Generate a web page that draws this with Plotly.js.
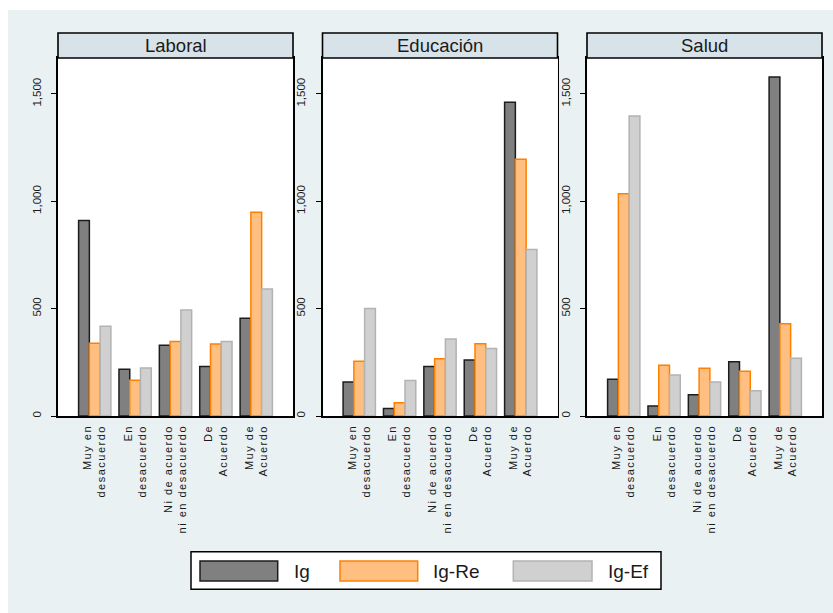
<!DOCTYPE html>
<html>
<head>
<meta charset="utf-8">
<script src="https://cdn.plot.ly/plotly-3.0.1.min.js"></script>
<style>
  html, body { margin: 0; padding: 0; background: #ffffff; width: 833px; height: 613px; overflow: hidden; }
  #chart { position: absolute; left: 8px; top: 10px; width: 825px; height: 603px; }
  .xtick text, .x2tick text, .x3tick text { letter-spacing: 1.5px; }
</style>
</head>
<body>
<div id="chart"></div>
<script>
// ---------- data ----------
const categories = ["Muy en<br>desacuerdo", "En<br>desacuerdo", "Ni de acuerdo<br>ni en desacuerdo", "De<br>Acuerdo", "Muy de<br>Acuerdo"];
const panelTitles = ["Laboral", "Educación", "Salud"];
const seriesNames = ["Ig", "Ig-Re", "Ig-Ef"];

const laboralIg = [910, 218, 329, 231, 455];
const laboralRe = [339, 167, 347, 335, 949];
const laboralEf = [418, 224, 494, 347, 591];

const educacionIg = [158, 35, 230, 261, 1461];
const educacionRe = [255, 62, 267, 337, 1196];
const educacionEf = [500, 165, 359, 314, 775];

const saludIg = [171, 47, 99, 253, 1579];
const saludRe = [1035, 236, 222, 208, 429];
const saludEf = [1397, 191, 158, 118, 269];

// ---------- styles ----------
const fillColors = ["#808080", "#ffbf80", "#d0d0d0"];
const lineColors = ["#1c1c1c", "#ff8000", "#b2b2b2"];
const bgColor = "#eaf1f3";
const stripColor = "#d8e3e9";
const FONT = "Liberation Sans, Arial, sans-serif";

const panelData = [
  [laboralIg, laboralRe, laboralEf],
  [educacionIg, educacionRe, educacionEf],
  [saludIg, saludRe, saludEf]
];

// ---------- geometry (pixels within the 825x603 div) ----------
const W = 825, H = 603;
const panelX = [[50, 285], [314.5, 549.5], [579, 814]];
const plotTop = 48, plotBottom = 406, stripTop = 23;
const px = v => v / W;
const py = v => (H - v) / H;

const traces = [];
panelData.forEach((series, p) => {
  const ax = p === 0 ? "" : String(p + 1);
  series.forEach((vals, s) => {
    traces.push({
      type: "bar",
      name: seriesNames[s],
      x: categories,
      y: vals,
      xaxis: "x" + ax,
      yaxis: "y" + ax,
      marker: { color: fillColors[s], line: { color: lineColors[s], width: 1.5 } },
      showlegend: false,
      hoverinfo: "x+y+name"
    });
  });
});

const layout = {
  width: W, height: H,
  margin: { l: 0, r: 0, t: 0, b: 0 },
  paper_bgcolor: bgColor,
  plot_bgcolor: "#ffffff",
  barmode: "group",
  bargap: 0.2,
  bargroupgap: 0,
  showlegend: false,
  font: { family: FONT, color: "#1a1a1a" },
  shapes: [],
  annotations: []
};

panelX.forEach((xs, p) => {
  const ax = p === 0 ? "" : String(p + 1);
  layout["xaxis" + ax] = {
    domain: [px(xs[0]), px(xs[1])],
    anchor: "y" + ax,
    type: "category",
    range: [-0.91, 4.91],
    showline: true, mirror: true, linecolor: "#000", linewidth: 1.6,
    ticks: "", tickangle: -90,
    tickfont: { family: FONT, size: 11, color: "#1a1a1a" },
    ticklabelstandoff: 3,
    showgrid: false, zeroline: false, fixedrange: true
  };
  layout["yaxis" + ax] = {
    domain: [py(plotBottom), py(plotTop)],
    anchor: "x" + ax,
    range: [0, 1667],
    tickvals: [0, 500, 1000, 1500],
    tickformat: ",",
    tickangle: -90,
    ticks: "outside", ticklen: 5, tickwidth: 1, tickcolor: "#000",
    tickfont: { family: FONT, size: 11.5, color: "#1a1a1a" },
    ticklabelstandoff: 6,
    showline: true, mirror: true, linecolor: "#000", linewidth: 1.6,
    showgrid: false, zeroline: false, fixedrange: true
  };
  // strip header
  layout.shapes.push({
    type: "rect", xref: "paper", yref: "paper",
    x0: px(xs[0]), x1: px(xs[1]), y0: py(plotTop), y1: py(stripTop),
    fillcolor: stripColor, line: { color: "#000", width: 1.6 }, layer: "above"
  });
  layout.annotations.push({
    xref: "paper", yref: "paper",
    x: px((xs[0] + xs[1]) / 2), y: py((plotTop + stripTop) / 2),
    xanchor: "center", yanchor: "middle",
    text: panelTitles[p], showarrow: false,
    font: { family: FONT, size: 18.5, color: "#1a1a1a" }
  });
});

// ---------- custom legend ----------
const legendBox = [183, 541.7, 653, 579.3];
const swatchX = [[192, 269.7], [332, 409.7], [505.3, 584]];
const swatchY = [551, 571];
const labelX = [283.7, 422.7, 598];
layout.shapes.push({
  type: "rect", xref: "paper", yref: "paper",
  x0: px(legendBox[0]), x1: px(legendBox[2]), y0: py(legendBox[3]), y1: py(legendBox[1]),
  fillcolor: "#ffffff", line: { color: "#000", width: 1.5 }
});
seriesNames.forEach((n, s) => {
  layout.shapes.push({
    type: "rect", xref: "paper", yref: "paper",
    x0: px(swatchX[s][0]), x1: px(swatchX[s][1]), y0: py(swatchY[1]), y1: py(swatchY[0]),
    fillcolor: fillColors[s], line: { color: lineColors[s], width: 1.5 }
  });
  layout.annotations.push({
    xref: "paper", yref: "paper",
    x: px(labelX[s]), y: py((swatchY[0] + swatchY[1]) / 2),
    xanchor: "left", yanchor: "middle",
    text: n, showarrow: false,
    font: { family: FONT, size: 19, color: "#1a1a1a" }
  });
});

Plotly.newPlot("chart", traces, layout, { displayModeBar: false, staticPlot: true });
</script>
</body>
</html>
